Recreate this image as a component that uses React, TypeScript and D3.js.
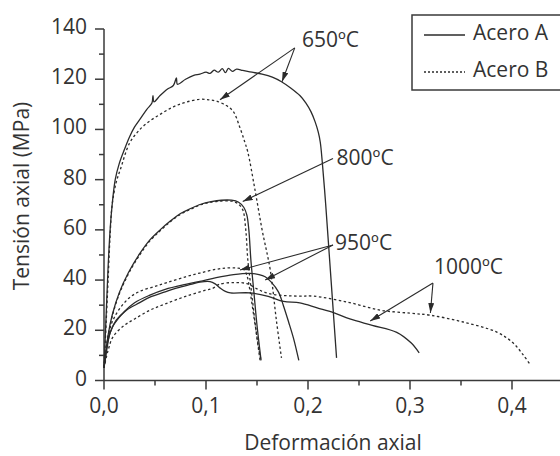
import React from "react";
import * as d3 from "d3";

type Pt = [number, number];

// strain (-), stress (MPa)
const a650: Pt[] = [
  [0, 5], [0.002, 25], [0.004, 45], [0.006, 60], [0.008, 70], [0.011, 80], [0.015, 86.5],
  [0.02, 92], [0.025, 97], [0.03, 101], [0.036, 104.5], [0.042, 108], [0.047, 110.5],
  [0.048, 113.5], [0.049, 111], [0.055, 113.5], [0.062, 116], [0.068, 117.5], [0.071, 120.5],
  [0.072, 118], [0.08, 120], [0.088, 121.5], [0.094, 122], [0.1, 122.8], [0.104, 122.3],
  [0.108, 123.6], [0.112, 122.8], [0.116, 124.2], [0.119, 122.6], [0.122, 124.3],
  [0.126, 123.1], [0.13, 124], [0.136, 123.5], [0.145, 122.8], [0.155, 122], [0.165, 120.8],
  [0.174, 119], [0.183, 116.5], [0.192, 113.5], [0.198, 110.5], [0.203, 107], [0.207, 103],
  [0.21, 99], [0.212, 95], [0.214, 87], [0.217, 72], [0.22, 55], [0.224, 32], [0.228, 9],
];
const b650: Pt[] = [
  [0, 5], [0.002, 22], [0.004, 40], [0.006, 58], [0.008, 70], [0.012, 79], [0.016, 84],
  [0.025, 94.5], [0.033, 99], [0.042, 102.5], [0.055, 106], [0.068, 109], [0.08, 110.8],
  [0.094, 112], [0.103, 111.8], [0.11, 111.3], [0.12, 109.5], [0.127, 107], [0.133, 101],
  [0.138, 95], [0.141, 91], [0.148, 76], [0.155, 60], [0.163, 44], [0.169, 24], [0.174, 9],
];
const a800: Pt[] = [
  [0, 5], [0.004, 18], [0.008, 26], [0.015, 35], [0.024, 43], [0.035, 50.5], [0.045, 56],
  [0.055, 60], [0.065, 63.5], [0.075, 66.5], [0.085, 68.5], [0.095, 70.2], [0.105, 71.2],
  [0.115, 71.8], [0.125, 71.8], [0.132, 71], [0.137, 69], [0.14, 66], [0.142, 60],
  [0.144, 48], [0.147, 35], [0.15, 22], [0.154, 8],
];
const b800: Pt[] = [
  [0, 5], [0.004, 17.5], [0.008, 25.5], [0.015, 34.5], [0.024, 42.5], [0.035, 50], [0.045, 55.6],
  [0.055, 59.6], [0.065, 63.2], [0.075, 66.2], [0.085, 68.2], [0.095, 70], [0.105, 71],
  [0.115, 71.5], [0.125, 71.4], [0.131, 70.5], [0.136, 68], [0.139, 60], [0.141, 48],
  [0.145, 34], [0.149, 20], [0.153, 8],
];
const a950: Pt[] = [
  [0, 5], [0.003, 14], [0.006, 19], [0.01, 22.5], [0.02, 27.5], [0.03, 31], [0.045, 34],
  [0.06, 36.3], [0.08, 38.3], [0.094, 39.5], [0.11, 41], [0.127, 42.2], [0.143, 42.7],
  [0.152, 42.2], [0.158, 41.3], [0.164, 39.2], [0.171, 35.3], [0.176, 29.7], [0.181, 23.3],
  [0.186, 16.5], [0.191, 8],
];
const b950: Pt[] = [
  [0, 5], [0.003, 15], [0.006, 21], [0.01, 25], [0.016, 29], [0.025, 33], [0.035, 35.5],
  [0.05, 37.5], [0.062, 39], [0.08, 41.3], [0.094, 42.8], [0.11, 44.3], [0.12, 44.8],
  [0.13, 44.8], [0.137, 44.2], [0.14, 42], [0.143, 36], [0.146, 28], [0.149, 20],
  [0.152, 12], [0.154, 8],
];
const a1000: Pt[] = [
  [0, 5], [0.003, 13], [0.006, 19], [0.012, 24], [0.022, 28], [0.035, 31], [0.045, 33.2],
  [0.06, 35.3], [0.071, 36.8], [0.085, 38.3], [0.094, 39.2], [0.104, 39.4], [0.109, 38.5],
  [0.114, 36.8], [0.119, 35.5], [0.124, 34.9], [0.143, 34.9], [0.161, 33.5], [0.176, 31.5],
  [0.192, 30.9], [0.209, 28.9], [0.225, 27], [0.241, 24.5], [0.263, 22], [0.287, 19.2],
  [0.301, 15], [0.309, 11],
];
const b1000: Pt[] = [
  [0, 5], [0.004, 12], [0.009, 17.5], [0.02, 22], [0.03, 24.5], [0.045, 28], [0.06, 30.5],
  [0.08, 33.5], [0.1, 36], [0.107, 36.8], [0.113, 38.3], [0.127, 39], [0.14, 38.6],
  [0.15, 36.5], [0.157, 35.2], [0.167, 34.2], [0.19, 33.6], [0.205, 33.6], [0.238, 31.3],
  [0.271, 28], [0.3, 26.8], [0.32, 26], [0.352, 23.3], [0.385, 19.3], [0.401, 15],
  [0.411, 10.2], [0.418, 6.2],
];

const curvesA = [a650, a800, a950, a1000];
const curvesB = [b650, b800, b950, b1000];

const xTicks = [0, 0.1, 0.2, 0.3, 0.4];
const xTickLabels = ["0,0", "0,1", "0,2", "0,3", "0,4"];
const yTicks = [0, 20, 40, 60, 80, 100, 120, 140];

const seriesNames = ["Acero A", "Acero B"];

// temperature labels: text anchor and arrow tips, in data units
const notes = [
  { text: "650ºC", at: [0.194, 133] as Pt, from: [0.187, 132.5] as Pt, to: [[0.1745, 119], [0.1137, 111.8]] as Pt[] },
  { text: "800ºC", at: [0.228, 86] as Pt, from: [0.2245, 88.4] as Pt, to: [[0.136, 71.3]] as Pt[] },
  { text: "950ºC", at: [0.2265, 52] as Pt, from: [0.2245, 54] as Pt, to: [[0.1333, 44], [0.158, 40]] as Pt[] },
  { text: "1000ºC", at: [0.3235, 42.4] as Pt, from: [0.3225, 38.8] as Pt, to: [[0.261, 23.7], [0.32, 26.9]] as Pt[] },
];

export default function App() {
  const width = 560,
    height = 456;
  const ink = "#2b2b2b";
  const font = "'Open Sans', 'Noto Sans', sans-serif";

  const x = d3.scaleLinear().domain([0, 0.45]).range([104, 563]);
  const y = d3.scaleLinear().domain([0, 140]).range([380.5, 29]);

  const line = d3
    .line<Pt>()
    .x(d => x(d[0]))
    .y(d => y(d[1]))
    .curve(d3.curveCatmullRom.alpha(0.5));

  const xMinor = d3.range(0, 0.451, 0.05);
  const yMinor = d3.range(0, 141, 10);

  return (
    <svg
      width={width}
      height={height}
      style={{ position: "absolute", left: 0, top: 0, background: "#fff" }}
      fontFamily={font}
    >
      <defs>
        <marker
          id="arr"
          viewBox="0 0 10 6"
          refX="10"
          refY="3"
          markerWidth="10"
          markerHeight="6"
          markerUnits="userSpaceOnUse"
          orient="auto"
        >
          <path d="M0,0 L10,3 L0,6 Z" fill={ink} />
        </marker>
      </defs>

      {/* axes */}
      <g stroke="#3a3a3a" strokeWidth={1.5} fill="none">
        <line x1={x(0)} x2={x(0)} y1={y(0)} y2={y(140)} />
        <line x1={x(0)} x2={x(0.45)} y1={y(0)} y2={y(0)} />
        {yMinor.map(v => (
          <line key={"y" + v} x1={x(0) - (v % 20 === 0 ? 9 : 5)} x2={x(0)} y1={y(v)} y2={y(v)} />
        ))}
        {xMinor.map(v => {
          const major = Math.abs(v * 10 - Math.round(v * 10)) < 1e-6;
          return <line key={"x" + v} x1={x(v)} x2={x(v)} y1={y(0)} y2={y(0) + (major ? 9 : 5)} />;
        })}
      </g>
      <g fill="#333" fontSize={21}>
        {yTicks.map(v => (
          <text key={v} x={x(0) - 17} y={y(v) + 5} textAnchor="end">
            {v}
          </text>
        ))}
        {xTicks.map((v, i) => (
          <text key={v} x={x(v)} y={413} textAnchor="middle">
            {xTickLabels[i]}
          </text>
        ))}
        <text x={333} y={450} textAnchor="middle">
          Deformación axial
        </text>
        <text transform="translate(29,196) rotate(-90)" textAnchor="middle">
          Tensión axial (MPa)
        </text>
      </g>

      {/* curves */}
      <g fill="none" stroke={ink} strokeWidth={1.3}>
        {curvesA.map((c, i) => (
          <path key={"a" + i} d={line(c) || ""} />
        ))}
        {curvesB.map((c, i) => (
          <path key={"b" + i} d={line(c) || ""} strokeDasharray="2.5,2.5" />
        ))}
      </g>

      {/* annotations */}
      <g stroke={ink} strokeWidth={1.1} fill="none">
        {notes.map(n =>
          n.to.map((t, j) => (
            <line
              key={n.text + j}
              x1={x(n.from[0])}
              y1={y(n.from[1])}
              x2={x(t[0])}
              y2={y(t[1])}
              markerEnd="url(#arr)"
            />
          ))
        )}
      </g>
      <g fill="#333" fontSize={21}>
        {notes.map(n => (
          <text key={n.text} x={x(n.at[0])} y={y(n.at[1])}>
            {n.text}
          </text>
        ))}
      </g>

      {/* legend */}
      <rect x={412} y={15} width={160} height={75} fill="#fff" stroke="#3a3a3a" strokeWidth={1.5} />
      <line x1={424} x2={465} y1={35} y2={35} stroke={ink} strokeWidth={1.3} />
      <line x1={424} x2={465} y1={72} y2={72} stroke={ink} strokeWidth={1.3} strokeDasharray="2,2" />
      <g fill="#333" fontSize={21}>
        <text x={473} y={40}>
          {seriesNames[0]}
        </text>
        <text x={473} y={77}>
          {seriesNames[1]}
        </text>
      </g>
    </svg>
  );
}
